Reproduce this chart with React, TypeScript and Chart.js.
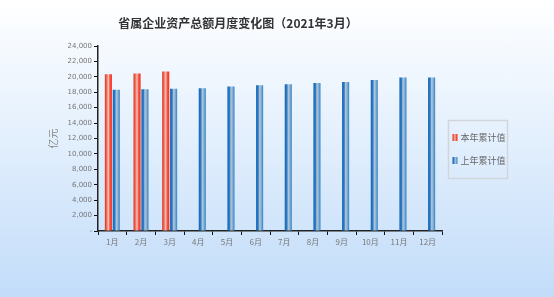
import React, { useEffect, useRef } from "react";
import { Chart, registerables } from "chart.js";

Chart.register(...registerables);

const TITLE = "省属企业资产总额月度变化图（2021年3月）";
const Y_TITLE = "亿元";
const MONTHS = ["1月", "2月", "3月", "4月", "5月", "6月", "7月", "8月", "9月", "10月", "11月", "12月"];
const SERIES_NAMES = ["本年累计值", "上年累计值"];
const THIS_YEAR = [20350, 20430, 20700, null, null, null, null, null, null, null, null, null];
const LAST_YEAR = [18330, 18380, 18460, 18510, 18760, 18900, 19030, 19200, 19330, 19590, 19900, 19900];
const Y_MAX = 24000;
const Y_STEP = 2000;

const CAT_PCT = 0.55;
const BAR_PCT = 0.9;
const RED_STOPS: [number, string][] = [
  [0, "#d8321e"],
  [0.25, "#ee6a55"],
  [0.5, "#f5c3bb"],
  [0.7, "#f25a48"],
  [1, "#ff2a18"],
];
const BLUE_STOPS: [number, string][] = [
  [0, "#1466b8"],
  [0.3, "#2e7cc6"],
  [0.5, "#b4c6d6"],
  [0.7, "#8fb2d2"],
  [1, "#2a82cc"],
];
const FONT = "'DejaVu Sans', sans-serif";
const CJK = "'Noto Sans CJK SC', sans-serif";

function makeGradient(ctx2d: CanvasRenderingContext2D, c: number, w: number, stops: [number, string][]) {
  const g = ctx2d.createLinearGradient(c - w / 2, 0, c + w / 2, 0);
  stops.forEach(([o, col]) => g.addColorStop(o, col));
  return g;
}

function barFill(stops: [number, string][]) {
  return (ctx: any) => {
    const chart = ctx.chart;
    const x = chart.scales && chart.scales.x;
    if (!x || ctx.type !== "data" || !isFinite(x.width) || x.width <= 0) return stops[0][1];
    const catW = (x.right - x.left) / MONTHS.length;
    const center = x.getPixelForValue(ctx.dataIndex);
    const slot = (catW * CAT_PCT) / 2;
    const c = center + (ctx.datasetIndex === 0 ? -slot / 2 : slot / 2);
    const w = slot * BAR_PCT;
    return makeGradient(chart.ctx, c, w, stops);
  };
}

const titlePlugin = {
  id: "customTitle",
  afterDraw(chart: any) {
    const c = chart.ctx;
    c.save();
    c.fillStyle = "#333";
    c.font = `bold 12px ${CJK}`;
    c.textAlign = "center";
    c.textBaseline = "middle";
    c.fillText(TITLE, 238, 23);
    c.restore();
  },
};

const legendPlugin = {
  id: "boxLegend",
  afterDraw(chart: any) {
    const c = chart.ctx;
    const area = chart.chartArea;
    const bx = area.right + 6.5;
    const by = 120.5;
    const bw = 59;
    const bh = 58;
    c.save();
    c.strokeStyle = "#d2d6dc";
    c.lineWidth = 1.5;
    c.strokeRect(bx, by, bw, bh);
    c.font = `9px ${CJK}`;
    c.textBaseline = "middle";
    c.textAlign = "left";
    const stopsList = [RED_STOPS, BLUE_STOPS];
    chart.data.datasets.forEach((ds: any, i: number) => {
      const y = 137.5 + i * 23;
      const sx = bx + 4;
      c.fillStyle = makeGradient(c, sx + 2.5, 5, stopsList[i]);
      c.fillRect(sx, y - 3.5, 5, 7);
      c.fillStyle = "#666";
      c.fillText(ds.label, sx + 8, y);
    });
    c.restore();
  },
};

export default function App() {
  const ref = useRef<HTMLCanvasElement | null>(null);
  useEffect(() => {
    if (!ref.current) return;
    const chart = new Chart(ref.current, {
      type: "bar",
      data: {
        labels: MONTHS,
        datasets: [
          {
            label: SERIES_NAMES[0],
            data: THIS_YEAR,
            backgroundColor: barFill(RED_STOPS),
            borderColor: "rgba(200,200,200,0.6)",
            borderWidth: 0,
            categoryPercentage: CAT_PCT,
            barPercentage: BAR_PCT,
          },
          {
            label: SERIES_NAMES[1],
            data: LAST_YEAR,
            backgroundColor: barFill(BLUE_STOPS),
            borderColor: "rgba(200,200,200,0.6)",
            borderWidth: 0,
            categoryPercentage: CAT_PCT,
            barPercentage: BAR_PCT,
          },
        ],
      },
      options: {
        animation: false,
        responsive: true,
        maintainAspectRatio: false,
        layout: { padding: { left: 0, top: 46, right: 112, bottom: 46 } },
        plugins: {
          legend: { display: false },
          title: { display: false },
          tooltip: { enabled: false },
        },
        scales: {
          x: {
            grid: {
              offset: true,
              drawOnChartArea: false,
              drawTicks: true,
              tickLength: 4,
              color: "#111",
            },
            border: { display: true, color: "#222", width: 1.5 },
            ticks: { color: "#777", font: { family: CJK, size: 8 }, padding: 2 },
            afterFit: (s: any) => {
              s.height = 20;
            },
          },
          y: {
            min: 0,
            max: Y_MAX,
            grid: { drawOnChartArea: false, drawTicks: true, tickLength: 4, color: "#111" },
            border: { display: true, color: "#222", width: 1.5 },
            ticks: {
              stepSize: Y_STEP,
              color: "#777",
              font: { family: FONT, size: 7 },
              padding: 2,
              callback: (v: any) => (Number(v) === 0 ? "-" : Number(v).toLocaleString("en-US")),
            },
            title: {
              display: true,
              text: Y_TITLE,
              color: "#888",
              font: { family: CJK, size: 10 },
              padding: { top: 47, bottom: 0 },
            },
            afterFit: (s: any) => {
              s.width = 98;
            },
          },
        },
      },
      plugins: [titlePlugin, legendPlugin],
    });
    return () => chart.destroy();
  }, []);
  return (
    <div
      style={{
        position: "fixed",
        left: 0,
        top: 0,
        width: 554,
        height: 297,
        background: "linear-gradient(to bottom, #ffffff 0%, #e4f0fd 45%, #c2dcf9 100%)",
      }}
    >
      <canvas ref={ref} width={554} height={297} />
    </div>
  );
}
